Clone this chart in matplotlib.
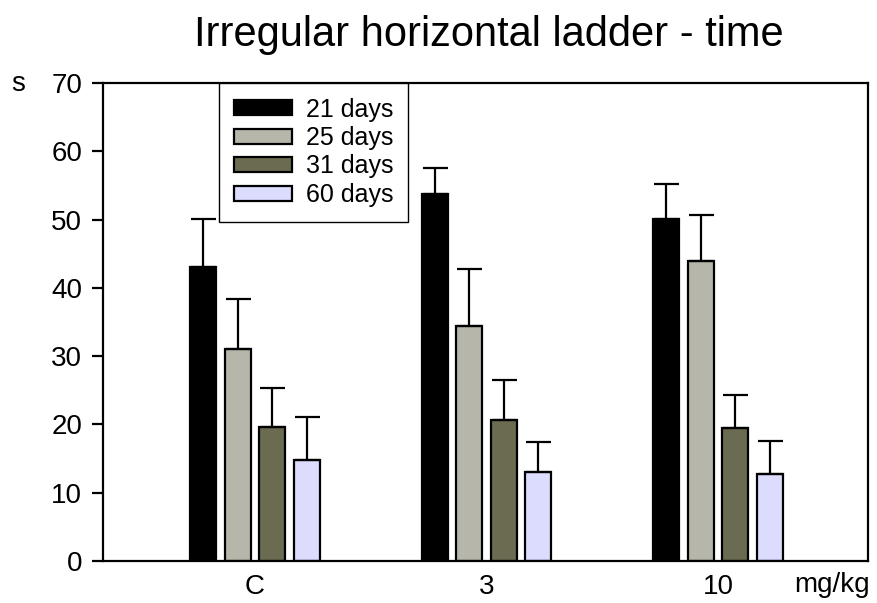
import numpy as np
import matplotlib
matplotlib.use('Agg')
import matplotlib.pyplot as plt

plt.rcParams['font.family'] = ['Liberation Sans', 'DejaVu Sans']

# data
groups = ['C', '3', '10']
series = ['21 days', '25 days', '31 days', '60 days']
means = {
    '21 days': [43.0, 53.7, 50.1],
    '25 days': [31.0, 34.4, 43.9],
    '31 days': [19.6, 20.6, 19.5],
    '60 days': [14.8, 13.0, 12.7],
}
errs = {
    '21 days': [7.1, 3.8, 5.1],
    '25 days': [7.4, 8.4, 6.8],
    '31 days': [5.7, 5.9, 4.8],
    '60 days': [6.3, 4.4, 4.9],
}
colors = ['#000000', '#b6b6aa', '#6b6b52', '#dcdcff']

fig = plt.figure(figsize=(8.77, 6.03), dpi=100)
ax = fig.add_axes([103/877, 1-561/603, (868-103)/877, (561-83)/603])

x = np.arange(len(groups))
w = 0.112; step = 0.149
for i, s in enumerate(series):
    off = (i-1.5)*step
    ax.bar(x+off, means[s], w, color=colors[i], edgecolor='black', linewidth=1.6, label=s, zorder=2)
    ax.errorbar(x+off, means[s], yerr=[np.zeros(3), errs[s]], fmt='none', ecolor='black',
                elinewidth=1.6, capsize=9, capthick=1.6, zorder=3)

ax.set_xlim(-0.657, 2.648)
ax.set_ylim(0, 70)
ax.set_yticks(range(0, 71, 10))
ax.set_xticks(x)
ax.set_xticklabels(groups)
ax.tick_params(axis='y', direction='out', length=8, width=1.6, labelsize=20, pad=7)
ax.tick_params(axis='x', length=0, labelsize=20, pad=9)
for sp in ax.spines.values():
    sp.set_linewidth(1.6)

fig.text(11/877, 1-84/603, 's', fontsize=20, ha='left', va='center')
fig.text(832/877, 1-585/603, 'mg/kg', fontsize=20, ha='center', va='center')
fig.text(489/877, 1-35/603, 'Irregular horizontal ladder - time', fontsize=30, ha='center', va='center')

leg = ax.legend(loc='upper left', bbox_to_anchor=((219-103)/765, 1.0), fontsize=18,
                frameon=True, fancybox=False, edgecolor='black', framealpha=1,
                handlelength=2.35, handleheight=0.56, labelspacing=0.18, borderpad=0.58,
                handletextpad=0.55, borderaxespad=0)
leg.get_frame().set_linewidth(1.0)

fig.savefig('out.png', dpi=100)
